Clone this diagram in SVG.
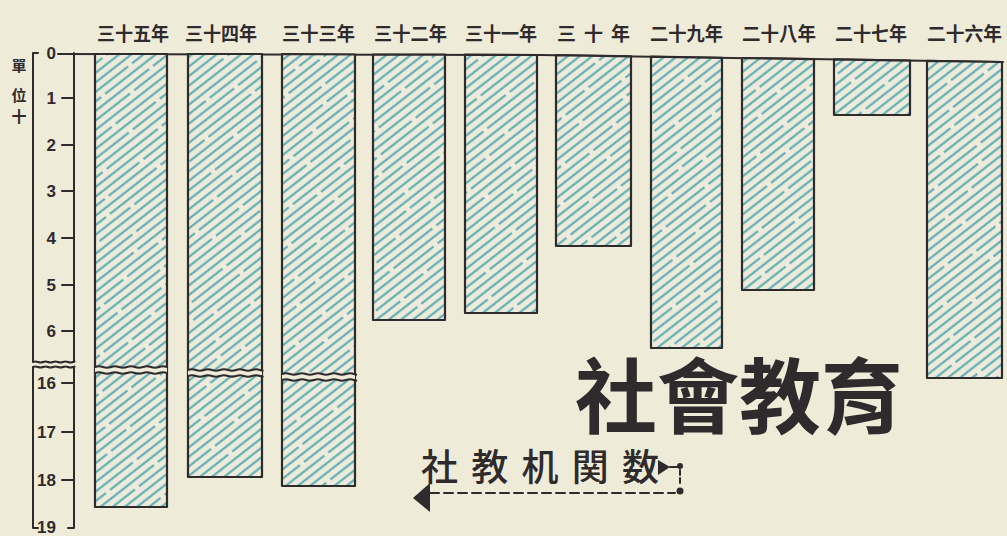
<svg xmlns="http://www.w3.org/2000/svg" width="1007" height="536" viewBox="0 0 1007 536">
<defs>
<style>
.ink{stroke:#2f2a2c;fill:none;stroke-width:2;stroke-linecap:round;stroke-linejoin:round}
.bar{fill:url(#hatch);stroke:#2f2a2c;stroke-width:2.2;stroke-linejoin:round}
.yr{font-family:"Noto Sans CJK TC","Noto Sans CJK JP",sans-serif;font-weight:700;font-size:19px;fill:#2f2a2c}
.num{font-family:"Liberation Sans",Arial,sans-serif;font-weight:700;font-size:17px;fill:#2f2a2c;text-anchor:end}
.unit{font-family:"Noto Sans CJK TC",sans-serif;font-weight:700;font-size:15px;fill:#2f2a2c;text-anchor:middle}
.title{font-family:"Noto Sans CJK TC","Noto Sans CJK JP",sans-serif;font-weight:700;font-size:82px;fill:#2f2a2c}
.leg{font-family:"Noto Sans CJK JP",sans-serif;font-weight:500;font-size:37px;fill:#2f2a2c}
.gap{fill:#efebd9;stroke:none}
.h{stroke:#58a9ad;stroke-width:2.2}
</style>
<pattern id="hatch" patternUnits="userSpaceOnUse" width="240" height="45" patternTransform="rotate(-38)">
<rect width="240" height="45" fill="#ecebdc"/>
<line class="h" x1="0" y1="3.75" x2="240" y2="3.75" stroke-dasharray="20 5 115 5 95 0"/>
<line class="h" x1="0" y1="11.25" x2="240" y2="11.25" stroke-dasharray="75 5 110 5 45 0"/>
<line class="h" x1="0" y1="18.75" x2="240" y2="18.75" stroke-dasharray="45 5 165 5 20 0"/>
<line class="h" x1="0" y1="26.25" x2="240" y2="26.25" stroke-dasharray="100 5 60 5 70 0"/>
<line class="h" x1="0" y1="33.75" x2="240" y2="33.75" stroke-dasharray="10 5 115 5 105 0"/>
<line class="h" x1="0" y1="41.25" x2="240" y2="41.25" stroke-dasharray="60 5 135 5 35 0"/>
</pattern>
</defs>
<rect width="1007" height="536" fill="#efebd9"/>

<g id="axis">
<path class="ink" d="M38 53 H33 V528 H38"/>
<path class="ink" d="M74 53 V528 H68"/>
<path class="ink" d="M58 54 L540 55 L1003 62"/>
<path class="ink" d="M62 98 H74 M62 145 H74 M62 191 H74 M62 238 H74 M62 285 H74 M62 331 H74 M62 383 H74 M62 432 H74 M62 480 H74"/>
<rect class="gap" x="32" y="362" width="44" height="5"/>
<path class="ink" d="M33 362 q2.5 -1.2 5 0 t5 0 t5 0 t5 0 t5 0 t5 0 t5 0 t5 0 t1 0"/>
<path class="ink" d="M33 367 q2.5 -1.2 5 0 t5 0 t5 0 t5 0 t5 0 t5 0 t5 0 t5 0 t1 0"/>
<text class="num" x="56" y="59">0</text>
<text class="num" x="56" y="104">1</text>
<text class="num" x="56" y="151">2</text>
<text class="num" x="56" y="197">3</text>
<text class="num" x="56" y="244">4</text>
<text class="num" x="56" y="291">5</text>
<text class="num" x="56" y="337">6</text>
<text class="num" x="56" y="389">16</text>
<text class="num" x="56" y="438">17</text>
<text class="num" x="56" y="486">18</text>
<text class="num" x="56" y="533">19</text>
<text class="unit" x="19" y="71">單</text>
<text class="unit" x="19" y="101">位</text>
<text class="unit" x="19" y="122">十</text>
</g>

<g id="bar-35">
<path class="bar" d="M95 54 L167 54 L167 507 L95 507 Z"/>
<rect class="gap" x="95" y="367" width="72" height="5"/>
<path class="ink" d="M95 367 q4 -1.5 8 0 t8 0 t8 0 t8 0 t8 0 t8 0 t8 0 t8 0 t8 0"/>
<path class="ink" d="M95 373 q4 -1.5 8 0 t8 0 t8 0 t8 0 t8 0 t8 0 t8 0 t8 0 t8 0"/>
<text class="yr" x="97" y="41" textLength="72" lengthAdjust="spacingAndGlyphs">三十五年</text>
</g>
<g id="bar-34">
<path class="bar" d="M188 54 L262 54 L262 477 L188 477 Z"/>
<rect class="gap" x="188" y="370" width="74" height="5"/>
<path class="ink" d="M188 370 q4 -1.5 8 0 t8 0 t8 0 t8 0 t8 0 t8 0 t8 0 t8 0 t8 0 t2 0"/>
<path class="ink" d="M188 376 q4 -1.5 8 0 t8 0 t8 0 t8 0 t8 0 t8 0 t8 0 t8 0 t8 0 t2 0"/>
<text class="yr" x="185" y="41" textLength="72" lengthAdjust="spacingAndGlyphs">三十四年</text>
</g>
<g id="bar-33">
<path class="bar" d="M282 54 L355 54.5 L355 486 L282 486 Z"/>
<rect class="gap" x="282" y="374" width="73" height="5"/>
<path class="ink" d="M282 374 q4 -1.5 8 0 t8 0 t8 0 t8 0 t8 0 t8 0 t8 0 t8 0 t8 0 t1 0"/>
<path class="ink" d="M282 380 q4 -1.5 8 0 t8 0 t8 0 t8 0 t8 0 t8 0 t8 0 t8 0 t8 0 t1 0"/>
<text class="yr" x="282" y="41" textLength="73" lengthAdjust="spacingAndGlyphs">三十三年</text>
</g>
<g id="bar-32">
<path class="bar" d="M373 54.5 L445 54.6 L445 320 L373 320 Z"/>
<text class="yr" x="374" y="41" textLength="73" lengthAdjust="spacingAndGlyphs">三十二年</text>
</g>
<g id="bar-31">
<path class="bar" d="M465 54.7 L537 55 L537 313 L465 313 Z"/>
<text class="yr" x="465" y="41" textLength="72" lengthAdjust="spacingAndGlyphs">三十一年</text>
</g>
<g id="bar-30">
<path class="bar" d="M556 55.2 L631 56.4 L631 246 L556 246 Z"/>
<text class="yr" x="557" y="41" textLength="73" lengthAdjust="spacing">三十年</text>
</g>
<g id="bar-29">
<path class="bar" d="M651 56.7 L722 57.8 L722 348 L651 348 Z"/>
<text class="yr" x="650" y="41" textLength="73" lengthAdjust="spacingAndGlyphs">二十九年</text>
</g>
<g id="bar-28">
<path class="bar" d="M742 58 L814 59.1 L814 290 L742 290 Z"/>
<text class="yr" x="742" y="41" textLength="74" lengthAdjust="spacingAndGlyphs">二十八年</text>
</g>
<g id="bar-27">
<path class="bar" d="M834 59.4 L910 60.6 L910 115 L834 115 Z"/>
<text class="yr" x="835" y="41" textLength="72" lengthAdjust="spacingAndGlyphs">二十七年</text>
</g>
<g id="bar-26">
<path class="bar" d="M927 60.8 L1002 62 L1002 378 L927 378 Z"/>
<text class="yr" x="927" y="41" textLength="75" lengthAdjust="spacingAndGlyphs">二十六年</text>
</g>

<g id="title">
<text class="title" x="575" y="427" textLength="328" lengthAdjust="spacing">社會教育</text>
</g>

<g id="legend">
<text class="leg" x="421" y="481" textLength="238" lengthAdjust="spacing">社教机関数</text>
<polygon points="658,460 670,467 658,475" fill="#2f2a2c"/>
<path class="ink" d="M670 467 H677"/>
<circle cx="680" cy="466" r="3" fill="#2f2a2c"/>
<path class="ink" d="M680 470 V486" stroke-dasharray="5 3"/>
<circle cx="680" cy="491" r="3.5" fill="#2f2a2c"/>
</g>
<g id="connectors">
<path class="ink" d="M430 493 H675" stroke-dasharray="9 5"/>
<polygon points="413,498 430,483 430,512" fill="#2f2a2c"/>
</g>
</svg>
